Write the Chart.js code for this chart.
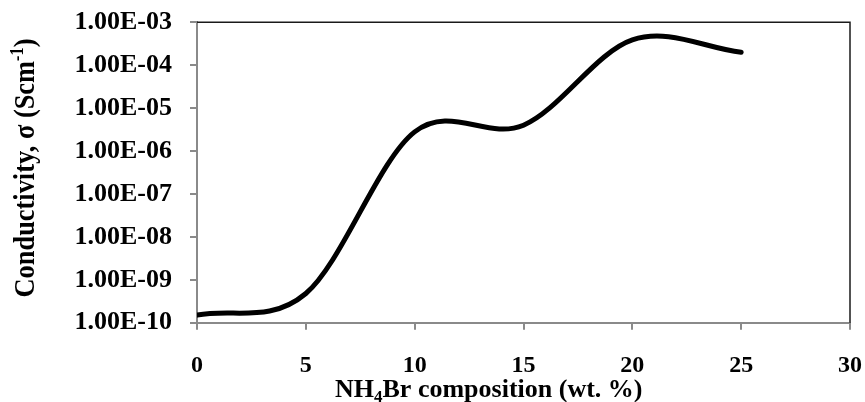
<!DOCTYPE html>
<html>
<head>
<meta charset="utf-8">
<script src="https://cdn.jsdelivr.net/npm/chart.js@4/dist/chart.umd.min.js"></script>
<style>
  html, body { margin: 0; padding: 0; background: #fff; }
  canvas { display: block; }
</style>
</head>
<body>
<canvas id="grafico" width="865" height="402"></canvas>
<script>
// composition (wt. %) and conductivity (S/cm)
const composicao = [0, 5, 10, 15, 20, 25];
const condutividade = [1.5e-10, 4.8e-10, 2.8e-6, 4.0e-6, 3.9e-4, 2.0e-4];

const xTicks = [0, 5, 10, 15, 20, 25, 30];
const yTicks = [1e-10, 1e-9, 1e-8, 1e-7, 1e-6, 1e-5, 1e-4, 1e-3];
const yTickLabels = ['1.00E-10', '1.00E-09', '1.00E-08', '1.00E-07', '1.00E-06', '1.00E-05', '1.00E-04', '1.00E-03'];

const serif = "'Liberation Serif', 'Times New Roman', serif";
const cinza = '#8a8a8a';

let pontos = [];
for (let i = 0; i < composicao.length; i++) {
    pontos.push({ x: composicao[i], y: condutividade[i] });
}

// excel style smoothing: catmull-rom handles on the points placed by the scales
const suavizar = {
    id: 'suavizar',
    beforeDatasetsDraw(chart) {
        const meta = chart.getDatasetMeta(0);
        const pts = meta.data;
        const n = pts.length;
        for (let i = 0; i < n; i++) {
            const p = pts[i];
            const ant = pts[i - 1];
            const prox = pts[i + 1];
            if (!ant) {
                p.cp1x = p.x; p.cp1y = p.y;
                p.cp2x = p.x + (prox.x - p.x) / 3;
                p.cp2y = p.y + (prox.y - p.y) / 3;
            } else if (!prox) {
                p.cp1x = p.x - (p.x - ant.x) / 3;
                p.cp1y = p.y - (p.y - ant.y) / 3;
                p.cp2x = p.x; p.cp2y = p.y;
            } else {
                const dx = (prox.x - ant.x) / 6;
                const dy = (prox.y - ant.y) / 6;
                p.cp1x = p.x - dx; p.cp1y = p.y - dy;
                p.cp2x = p.x + dx; p.cp2y = p.y + dy;
            }
        }
        meta.dataset._pointsUpdated = true;
        meta.dataset._path = undefined;
    }
};

// titles with sub/superscripts, frame top/right
const titulos = {
    id: 'titulos',
    afterDraw(chart) {
        const ctx = chart.ctx;
        const sx = chart.scales.x;
        const sy = chart.scales.y;
        const esq = sx.getPixelForValue(0);
        const dir = sx.getPixelForValue(30);
        const topo = sy.getPixelForValue(1e-3);
        const base = sy.getPixelForValue(1e-10);
        ctx.save();
        ctx.strokeStyle = '#1a1a1a';
        ctx.lineWidth = 1.5;
        ctx.beginPath();
        ctx.moveTo(esq, topo);
        ctx.lineTo(dir, topo);
        ctx.lineTo(dir, base);
        ctx.stroke();

        ctx.fillStyle = '#000';
        ctx.textBaseline = 'alphabetic';
        ctx.textAlign = 'left';

        // x title
        const big = 'bold 26px ' + serif;
        const small = 'bold 17px ' + serif;
        let x = 335, y = 397;
        ctx.font = big; ctx.fillText('NH', x, y); x += ctx.measureText('NH').width;
        ctx.font = small; ctx.fillText('4', x, y + 5); x += ctx.measureText('4').width;
        ctx.font = big; ctx.fillText('Br composition (wt. %)', x, y);

        // y title
        const bigY = 'bold 29px ' + serif;
        const smallY = 'bold 18px ' + serif;
        const partes = [
            { t: 'Conductivity, \u03c3 (Scm', f: bigY, dy: 0 },
            { t: '-1', f: smallY, dy: -11 },
            { t: ')', f: bigY, dy: 0 }
        ];
        let total = 0;
        partes.forEach(p => { ctx.font = p.f; p.w = ctx.measureText(p.t).width; total += p.w; });
        const alvo = 259;
        const esc = alvo / total;
        ctx.translate(34, 168);
        ctx.rotate(-Math.PI / 2);
        ctx.scale(esc, 1);
        let px = -total / 2;
        partes.forEach(p => { ctx.font = p.f; ctx.fillText(p.t, px, p.dy); px += p.w; });
        ctx.restore();
    }
};

const config = {
    type: 'line',
    data: {
        datasets: [{
            data: pontos,
            borderColor: '#000',
            borderWidth: 5,
            borderCapStyle: 'round',
            pointRadius: 0,
            tension: 0.4,
            fill: false
        }]
    },
    options: {
        responsive: false,
        animation: false,
        layout: { padding: { top: 22.3, right: 15, left: 0, bottom: 0 } },
        plugins: { legend: { display: false }, tooltip: { enabled: false } },
        scales: {
            x: {
                type: 'linear',
                min: 0, max: 30,
                afterFit(scale) { scale.height = 79.3; scale.paddingLeft = 0; scale.paddingRight = 0; },
                afterBuildTicks(scale) { scale.ticks = xTicks.map(v => ({ value: v })); },
                grid: { drawOnChartArea: false, color: cinza, lineWidth: 2, tickLength: 7 },
                border: { color: cinza, width: 2 },
                ticks: { color: '#000', padding: 22, maxRotation: 0, font: { family: serif, size: 24, weight: 'bold' } }
            },
            y: {
                type: 'logarithmic',
                min: 1e-10, max: 1e-3,
                afterFit(scale) { scale.width = 197; scale.paddingTop = 0; scale.paddingBottom = 0; },
                afterBuildTicks(scale) { scale.ticks = yTicks.map(v => ({ value: v })); },
                grid: { drawOnChartArea: false, color: cinza, lineWidth: 2, tickLength: 7 },
                border: { color: cinza, width: 2 },
                ticks: {
                    color: '#000', padding: 18,
                    font: { family: serif, size: 26, weight: 'bold' },
                    callback: function (value, index) { return yTickLabels[index]; }
                }
            }
        }
    },
    plugins: [suavizar, titulos]
};

const ctx = document.getElementById('grafico').getContext('2d');
let meuGrafico = new Chart(ctx, config);
</script>
</body>
</html>
